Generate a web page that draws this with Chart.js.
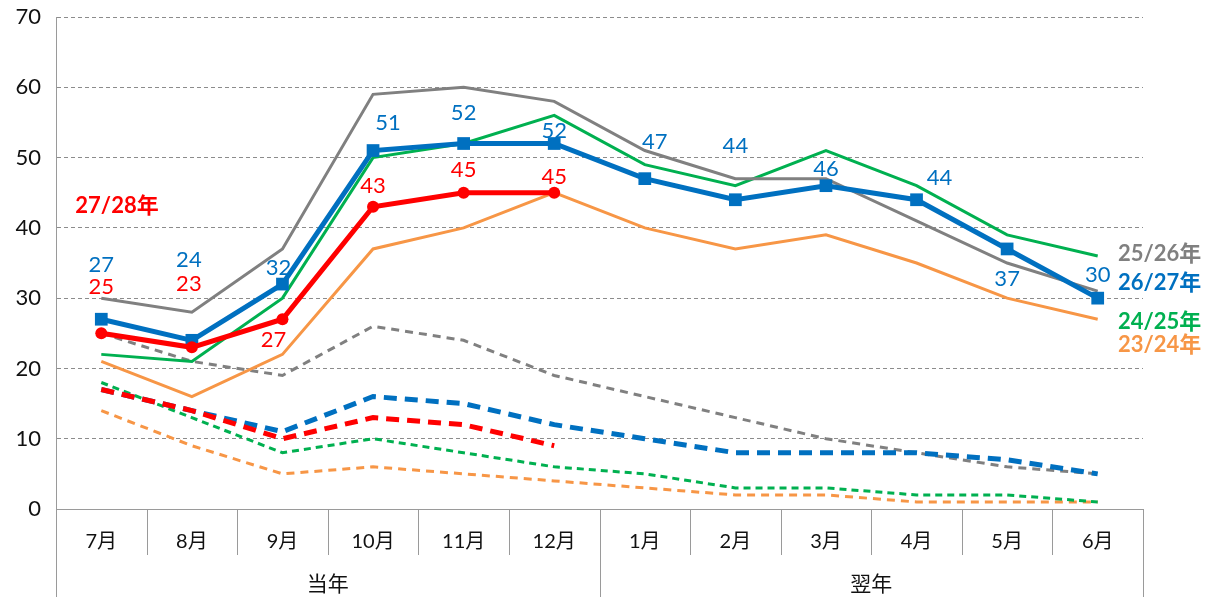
<!DOCTYPE html>
<html>
<head>
<meta charset="utf-8">
<script src="https://cdn.jsdelivr.net/npm/chart.js@4"></script>
<style>
  html, body { margin: 0; padding: 0; background: #fff; }
  #wrap { width: 1205px; height: 597px; }
</style>
</head>
<body>
<div id="wrap"><canvas id="chart" width="1205" height="597"></canvas></div>
<script>
// categories
const months = ["7月", "8月", "9月", "10月", "11月", "12月", "1月", "2月", "3月", "4月", "5月", "6月"];
const groups = ["当年", "翌年"];
const yTicks = [0, 10, 20, 30, 40, 50, 60, 70];

// solid lines
const s2324 = [21, 16, 22, 37, 40, 45, 40, 37, 39, 35, 30, 27];
const s2425 = [22, 21, 30, 50, 52, 56, 49, 46, 51, 46, 39, 36];
const s2526 = [30, 28, 37, 59, 60, 58, 51, 47, 47, 41, 35, 31];
const s2627 = [27, 24, 32, 51, 52, 52, 47, 44, 46, 44, 37, 30];
const s2728 = [25, 23, 27, 43, 45, 45, null, null, null, null, null, null];

// dashed lines
const d2324 = [14, 9, 5, 6, 5, 4, 3, 2, 2, 1, 1, 1];
const d2425 = [18, 13, 8, 10, 8, 6, 5, 3, 3, 2, 2, 1];
const d2526 = [25, 21, 19, 26, 24, 19, 16, 13, 10, 8, 6, 5];
const d2627 = [17, 14, 11, 16, 15, 12, 10, 8, 8, 8, 7, 5];
const d2728 = [17, 14, 10, 13, 12, 9, null, null, null, null, null, null];

// series names
const names = ["23/24年", "24/25年", "25/26年", "26/27年", "27/28年"];

const GRAY = "#808080", BLUE = "#0070C0", GREEN = "#00B050", ORANGE = "#F79646", RED = "#FF0000";
const FONT = "Lato, 'Noto Sans CJK JP', sans-serif";

// label offsets (px) for value labels
const blueOff = [[0,-54],[-3,-80],[-4,-16],[15,-28],[0,-31],[0,-13],[10,-37],[0,-54],[0,-17],[23,-22],[0,30],[0,-23]];
const redOff = [[0,-46],[-3,-63],[-9,21],[0,-21],[0,-23],[0,-16]];

function line(label, data, color, width, dash, order, extra) {
    return Object.assign({
        label: label,
        data: data,
        borderColor: color,
        backgroundColor: color,
        borderWidth: width,
        borderDash: dash || [],
        pointRadius: 0,
        tension: 0,
        fill: false,
        order: order,
        spanGaps: false
    }, extra || {});
}

const frame = {
    id: "frame",
    afterDraw(chart) {
        const ctx = chart.ctx;
        const a = chart.chartArea;
        const w = (a.right - a.left) / months.length;
        ctx.save();
        ctx.strokeStyle = "#9a9a9a";
        ctx.lineWidth = 1;
        for (let i = 0; i <= months.length; i++) {
            const x = Math.round(a.left + i * w) + 0.5;
            const long = (i % 6 === 0);
            ctx.beginPath();
            ctx.moveTo(x, a.bottom);
            ctx.lineTo(x, long ? chart.height : a.bottom + 46);
            ctx.stroke();
        }
        ctx.fillStyle = "#111";
        ctx.font = "21px " + FONT;
        ctx.textAlign = "center";
        ctx.textBaseline = "middle";
        groups.forEach((g, i) => {
            ctx.fillText(g, a.left + (i * 6 + 3) * w, 584);
        });

        // value labels
        ctx.font = "22px " + FONT;
        const drawVals = (idx, offs, color) => {
            const meta = chart.getDatasetMeta(idx);
            ctx.fillStyle = color;
            meta.data.forEach((p, i) => {
                const v = chart.data.datasets[idx].data[i];
                if (v === null || !offs[i]) return;
                ctx.fillText(String(v), p.x + offs[i][0], p.y + offs[i][1]);
            });
        };
        drawVals(3, blueOff, BLUE);
        drawVals(4, redOff, RED);

        // series tags
        const y = chart.scales.y;
        ctx.font = "bold 22px " + FONT;
        ctx.textAlign = "left";
        const tags = [[names[2], GRAY, 36.3], [names[3], BLUE, 32.2], [names[1], GREEN, 26.6], [names[0], ORANGE, 23.3]];
        tags.forEach(t => {
            ctx.fillStyle = t[1];
            ctx.fillText(t[0], a.right - 25, y.getPixelForValue(t[2]));
        });
        ctx.fillStyle = RED;
        ctx.textAlign = "center";
        ctx.fillText(names[4], a.left + 61, y.getPixelForValue(43.1));
        ctx.restore();
    }
};

new Chart(document.getElementById("chart"), {
    type: "line",
    data: {
        labels: months,
        datasets: [
            line(names[0], s2324, ORANGE, 3, null, 9),
            line(names[1], s2425, GREEN, 3, null, 8),
            line(names[2], s2526, GRAY, 3, null, 7),
            line(names[3], s2627, BLUE, 5, null, 2, { pointStyle: "rect", pointRadius: 9, pointHoverRadius: 9, pointBorderWidth: 0 }),
            line(names[4], s2728, RED, 5, null, 1, { pointStyle: "circle", pointRadius: 6, pointHoverRadius: 6, pointBorderWidth: 0 }),
            line(names[0], d2324, ORANGE, 3, [8, 6], 14),
            line(names[1], d2425, GREEN, 3, [7, 5], 13),
            line(names[2], d2526, GRAY, 3, [8, 6], 12),
            line(names[3], d2627, BLUE, 5, [13, 8], 11),
            line(names[4], d2728, RED, 5, [13, 8], 10)
        ]
    },
    options: {
        responsive: false,
        animation: false,
        layout: { autoPadding: false, padding: { top: 17, right: 62, left: 0, bottom: 0 } },
        plugins: {
            legend: { display: false },
            tooltip: { enabled: false }
        },
        scales: {
            x: {
                offset: true,
                grid: { display: false },
                border: { display: true, color: "#9a9a9a", width: 1 },
                ticks: { color: "#111", font: { size: 20, family: FONT }, padding: 13, maxRotation: 0 },
                afterFit(s) { s.height = 88; s.paddingLeft = 0; s.paddingRight = 0; }
            },
            y: {
                min: 0,
                max: 70,
                afterBuildTicks(s) { s.ticks = yTicks.map(v => ({ value: v })); },
                grid: {
                    color: ctx => ctx.tick && ctx.tick.value === 0 ? "rgba(0,0,0,0)" : "#8c8c8c",
                    lineWidth: 1,
                    drawTicks: false
                },
                border: { display: true, color: "#9a9a9a", width: 1, dash: [4, 3] },
                ticks: { color: "#111", font: { size: 22, family: FONT }, padding: 15 },
                afterFit(s) { s.width = 56; s.paddingTop = 0; s.paddingBottom = 0; }
            }
        }
    },
    plugins: [frame]
});
</script>
</body>
</html>
